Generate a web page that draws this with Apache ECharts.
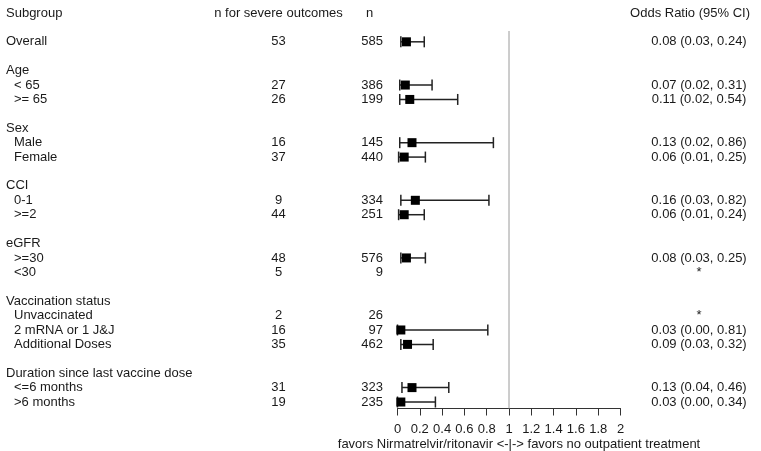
<!DOCTYPE html>
<html>
<head>
<meta charset="utf-8">
<script src="https://cdn.jsdelivr.net/npm/echarts@6/dist/echarts.min.js"></script>
<style>html,body{margin:0;padding:0;background:#fff}#c{width:761px;height:451px}</style>
</head>
<body>
<div id="c"></div>
<script>
// ---- data ----
const headerSubgroup = 'Subgroup';
const headerNSevere = 'n for severe outcomes';
const headerN = 'n';
const headerOR = 'Odds Ratio (95% CI)';
const axisTitle = 'favors Nirmatrelvir/ritonavir <-|-> favors no outpatient treatment';

// '' marks a blank spacer row
const labels = ['Overall', '', 'Age', '< 65', '>= 65', '', 'Sex', 'Male', 'Female', '',
  'CCI', '0-1', '>=2', '', 'eGFR', '>=30', '<30', '',
  'Vaccination status', 'Unvaccinated', '2 mRNA or 1 J&J', 'Additional Doses', '',
  'Duration since last vaccine dose', '<=6 months', '>6 months'];
const levels = [0, null, 0, 1, 1, null, 0, 1, 1, null,
  0, 1, 1, null, 0, 1, 1, null,
  0, 1, 1, 1, null,
  0, 1, 1];
const nSevere = [53, null, null, 27, 26, null, null, 16, 37, null,
  null, 9, 44, null, null, 48, 5, null,
  null, 2, 16, 35, null,
  null, 31, 19];
const nTotal = [585, null, null, 386, 199, null, null, 145, 440, null,
  null, 334, 251, null, null, 576, 9, null,
  null, 26, 97, 462, null,
  null, 323, 235];
const orEst = [0.08, null, null, 0.07, 0.11, null, null, 0.13, 0.06, null,
  null, 0.16, 0.06, null, null, 0.08, null, null,
  null, null, 0.03, 0.09, null,
  null, 0.13, 0.03];
const ciLow = [0.03, null, null, 0.02, 0.02, null, null, 0.02, 0.01, null,
  null, 0.03, 0.01, null, null, 0.03, null, null,
  null, null, 0.00, 0.03, null,
  null, 0.04, 0.00];
const ciHigh = [0.24, null, null, 0.31, 0.54, null, null, 0.86, 0.25, null,
  null, 0.82, 0.24, null, null, 0.25, null, null,
  null, null, 0.81, 0.32, null,
  null, 0.46, 0.34];
const xTicks = [0, 0.2, 0.4, 0.6, 0.8, 1, 1.2, 1.4, 1.6, 1.8, 2];
const nullEffect = 1;

// ---- layout ----
const FONT = '"Liberation Sans", Arial, Helvetica, sans-serif';
const FS = 13;
const TXT = '#1a1a1a';
const FIRST_ROW = 2;           // data rows start after header + blank
const Y_MAX = 27.45;           // axis line position in row units
const REF_TOP = 1.25;
const GRID_TOP = 13, GRID_H = 395.5;
const COL = { subX: 6, indent: 8, nSevX: 278.5, nX: 383, nHeadX: 366, orX: 699, orHeadX: 750 };

const chart = echarts.init(document.getElementById('c'), null, { renderer: 'canvas' });

function textSeries(items, align) {
  return {
    type: 'custom', xAxisIndex: 1, yAxisIndex: 1, silent: true,
    data: items.map(d => [d.x, d.row]),
    renderItem: function (params, api) {
      const p = api.coord([api.value(0), api.value(1)]);
      return {
        type: 'text', x: p[0], y: p[1],
        style: { text: items[params.dataIndex].text, textAlign: align, textVerticalAlign: 'middle',
          font: FS + 'px ' + FONT, fill: TXT }
      };
    }
  };
}

const subItems = [{ x: COL.subX, row: 0, text: headerSubgroup }];
const nSevItems = [{ x: COL.nSevX, row: 0, text: headerNSevere }];
const nItems = [];
const orItems = [];
const ciData = [];
labels.forEach((lab, i) => {
  const row = i + FIRST_ROW;
  if (lab) subItems.push({ x: COL.subX + (levels[i] ? COL.indent : 0), row, text: lab });
  if (nSevere[i] != null) nSevItems.push({ x: COL.nSevX, row, text: String(nSevere[i]) });
  if (nTotal[i] != null) nItems.push({ x: COL.nX, row, text: String(nTotal[i]) });
  if (orEst[i] != null) {
    orItems.push({ x: COL.orX, row, text: orEst[i].toFixed(2) + ' (' + ciLow[i].toFixed(2) + ', ' + ciHigh[i].toFixed(2) + ')' });
    ciData.push([orEst[i], row, ciLow[i], ciHigh[i]]);
  } else if (nTotal[i] != null) {
    orItems.push({ x: COL.orX, row, text: '*' });
  }
});

const yAxisBase = { type: 'value', inverse: true, min: 0, max: Y_MAX, show: false };

const option = {
  animation: false,
  backgroundColor: '#ffffff',
  grid: [
    { left: 397.5, width: 223, top: GRID_TOP, height: GRID_H, outerBoundsMode: 'none', containLabel: false },
    { left: 0, width: 761, top: GRID_TOP, height: GRID_H, outerBoundsMode: 'none', containLabel: false }
  ],
  xAxis: [
    {
      type: 'value', gridIndex: 0, min: xTicks[0], max: xTicks[xTicks.length - 1], interval: xTicks[1] - xTicks[0],
      splitLine: { show: false },
      axisLine: { show: true, onZero: false, lineStyle: { color: '#333', width: 1 } },
      axisTick: { show: true, inside: false, length: 7, lineStyle: { color: '#333', width: 1 } },
      axisLabel: { show: true, margin: 14, fontSize: FS, fontFamily: FONT, color: TXT, showMinLabel: true, showMaxLabel: true },
      name: axisTitle, nameLocation: 'middle', nameGap: 29, nameMoveOverlap: false,
      nameTextStyle: { fontSize: FS, fontFamily: FONT, color: TXT, padding: [0, 0, 0, 20] }
    },
    { type: 'value', gridIndex: 1, min: 0, max: 761, show: false }
  ],
  yAxis: [
    Object.assign({ gridIndex: 0 }, yAxisBase),
    Object.assign({ gridIndex: 1 }, yAxisBase)
  ],
  series: [
    {
      type: 'line', xAxisIndex: 0, yAxisIndex: 0, silent: true, symbol: 'none',
      data: [[nullEffect, REF_TOP], [nullEffect, Y_MAX]],
      lineStyle: { color: '#9a9a9a', width: 1 }
    },
    {
      type: 'custom', xAxisIndex: 0, yAxisIndex: 0, silent: true, clip: false,
      data: ciData,
      renderItem: function (params, api) {
        const row = api.value(1);
        const c = api.coord([api.value(0), row]);
        const l = api.coord([api.value(2), row]);
        const h = api.coord([api.value(3), row]);
        const cap = 5.5, sq = 9;
        const st = { stroke: '#222', lineWidth: 1.5 };
        return {
          type: 'group',
          children: [
            { type: 'line', shape: { x1: l[0], y1: l[1], x2: h[0], y2: h[1] }, style: st },
            { type: 'line', shape: { x1: l[0], y1: l[1] - cap, x2: l[0], y2: l[1] + cap }, style: st },
            { type: 'line', shape: { x1: h[0], y1: h[1] - cap, x2: h[0], y2: h[1] + cap }, style: st },
            { type: 'rect', shape: { x: c[0] - sq / 2, y: c[1] - sq / 2, width: sq, height: sq }, style: { fill: '#000' } }
          ]
        };
      }
    },
    textSeries(subItems, 'left'),
    textSeries(nSevItems, 'center'),
    textSeries([{ x: COL.nHeadX, row: 0, text: headerN }], 'left'),
    textSeries(nItems, 'right'),
    textSeries([{ x: COL.orHeadX, row: 0, text: headerOR }], 'right'),
    textSeries(orItems, 'center')
  ]
};
chart.setOption(option);
</script>
</body>
</html>
